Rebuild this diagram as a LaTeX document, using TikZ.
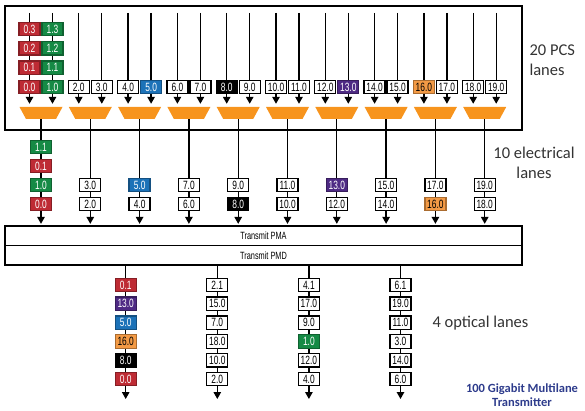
\documentclass[tikz,border=0pt]{standalone}
\usepackage{fontspec}
\setmainfont{Carlito}
\newfontfamily\lanefont[FakeStretch=0.7]{Liberation Sans}
\usetikzlibrary{arrows.meta}
\definecolor{lane-red}{HTML}{BE2B34}
\definecolor{lane-green}{HTML}{158A45}
\definecolor{lane-blue}{HTML}{1C72B8}
\definecolor{lane-purple}{HTML}{4E2A84}
\definecolor{lane-orange}{HTML}{F39A45}
\definecolor{mux-orange}{HTML}{F7941D}
\definecolor{title-blue}{HTML}{2E3C8C}

\tikzset{
  lane/.style={draw=black, line width=1.3pt, fill=white, minimum width=21pt,
    minimum height=13.5pt, inner sep=0pt,
    font=\lanefont\fontsize{12}{12}\selectfont},
  white lane/.style={lane},
  red lane/.style={lane, fill=lane-red, draw=lane-red!70!black, text=white},
  green lane/.style={lane, fill=lane-green, draw=lane-green!70!black, text=white},
  blue lane/.style={lane, fill=lane-blue, draw=lane-blue!70!black, text=white},
  black lane/.style={lane, fill=black, text=white},
  purple lane/.style={lane, fill=lane-purple, draw=lane-purple!70!black, text=white},
  orange lane/.style={lane, fill=lane-orange, draw=lane-orange!70!black, text=black},
  block/.style={draw=black, line width=1.3pt, inner sep=0pt},
  mux/.style={minimum width=43pt, minimum height=12pt, inner sep=0pt,
    path picture={\fill[mux-orange] (path picture bounding box.north west)
      -- (path picture bounding box.north east)
      -- ([xshift=-6.5pt]path picture bounding box.south east)
      -- ([xshift=6.5pt]path picture bounding box.south west) -- cycle;}},
  flow/.style={line width=1.3pt, -{Triangle[width=7.5pt,length=7pt]}},
  tag/.style={font=\fontsize{16.5}{20}\selectfont, text=black!80}
}

\begin{document}
\begin{tikzpicture}[x=1pt, y=-1pt]
  \useasboundingbox (0,0) rectangle (585,411);

  % PCS block and multiplexers
  \node[block, minimum width=517pt, minimum height=124pt] (pcs) at (263.5,68) {};
  \foreach \i in {0,...,9}
    \node[mux] (mux\i) at (41+49.3*\i,113) {};

  % 20 PCS lanes
  \foreach \k/\c in {0/red,1/green,2/white,3/white,4/white,5/blue,6/white,
      7/white,8/black,9/white,10/white,11/white,12/white,13/purple,14/white,
      15/white,16/orange,17/white,18/white,19/white} {
    \pgfmathtruncatemacro\i{\k/2}
    \pgfmathsetmacro\x{41+49.3*\i+23*(mod(\k,2)-0.5)}
    \coordinate (in\k) at (\x,13);
    \draw[flow, shorten >=3pt] (in\k) -- (in\k |- mux\i.north);
    \node[\c\space lane] (pcs\k) at (\x,87) {\k.0};
  }
  \foreach \j in {1,2,3} {
    \node[red lane] (pcs0-\j) at (29.5,87-19.3*\j) {0.\j};
    \node[green lane] (pcs1-\j) at (52.5,87-19.3*\j) {1.\j};
  }

  % PMA / PMD
  \node[block, minimum width=517pt, minimum height=19.5pt,
    font=\lanefont\fontsize{10.5}{11}\selectfont] (pma) at (263.5,235.75) {Transmit PMA};
  \node[block, minimum width=517pt, minimum height=19.5pt,
    font=\lanefont\fontsize{10.5}{11}\selectfont] (pmd) at (263.5,255.25) {Transmit PMD};

  % 10 electrical lanes
  \foreach \i/\up/\cu/\dn/\cd in {0/1.0/green/0.0/red, 1/3.0/white/2.0/white,
      2/5.0/blue/4.0/white, 3/7.0/white/6.0/white, 4/9.0/white/8.0/black,
      5/11.0/white/10.0/white, 6/13.0/purple/12.0/white,
      7/15.0/white/14.0/white, 8/17.0/white/16.0/orange,
      9/19.0/white/18.0/white} {
    \draw[flow, shorten >=1.5pt] (mux\i.south) -- (mux\i.south |- pma.north);
    \node[\cu\space lane] (el\i-up) at (41+49.3*\i,185) {\up};
    \node[\cd\space lane] (el\i-dn) at (41+49.3*\i,204) {\dn};
  }
  \node[green lane] (el0-b) at (41,147) {1.1};
  \node[red lane] (el0-c) at (41,166) {0.1};

  % 4 optical lanes
  \foreach \o/\x/\lst in {
      0/125.7/{0.1/red,13.0/purple,5.0/blue,16.0/orange,8.0/black,0.0/red},
      1/217.3/{2.1/white,15.0/white,7.0/white,18.0/white,10.0/white,2.0/white},
      2/308.9/{4.1/white,17.0/white,9.0/white,1.0/green,12.0/white,4.0/white},
      3/400.5/{6.1/white,19.0/white,11.0/white,3.0/white,14.0/white,6.0/white}} {
    \coordinate (out\o) at (\x,399);
    \draw[flow] (pmd.south -| out\o) -- (out\o);
    \foreach \t/\c [count=\j from 0] in \lst
      \node[\c\space lane] (op\o-\j) at (\x,285+18.8*\j) {\t};
  }

  % labels
  \node[tag, anchor=west, align=left] (pcstag) at (526,60) {20 PCS\\lanes};
  \node[tag, align=center] (eltag) at (534,163) {10 electrical\\lanes};
  \node[tag, anchor=west] (optag) at (429,323) {4 optical lanes};
  \node[align=center, text=title-blue, font=\bfseries\fontsize{12.5}{14}\selectfont]
    (title) at (522,395) {100 Gigabit Multilane\\Transmitter};
\end{tikzpicture}
\end{document}
